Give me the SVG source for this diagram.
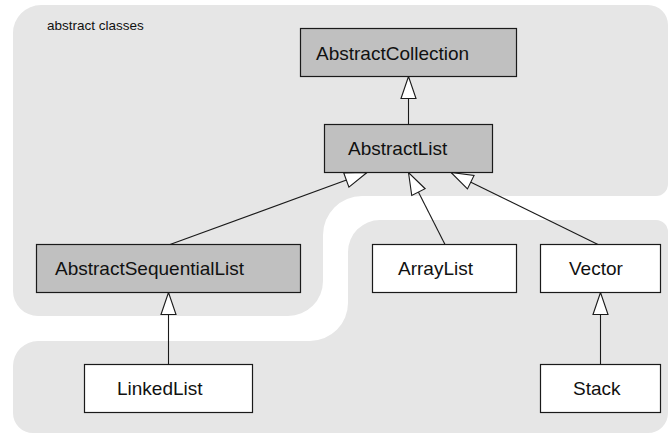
<svg xmlns="http://www.w3.org/2000/svg" width="670" height="435" viewBox="0 0 670 435">
  <style>
    .zone { fill: #e6e6e6; stroke: none; }
    .cls { stroke: #1a1a1a; stroke-width: 1.2; }
    .abstract { fill: #c0c0c0; }
    .concrete { fill: #ffffff; }
    .label { font-family: "Liberation Sans", Arial, sans-serif; font-size: 19px; fill: #111; }
    .note { font-family: "Liberation Sans", Arial, sans-serif; font-size: 13.5px; fill: #111; }
    .edge { stroke: #1a1a1a; stroke-width: 1.1; fill: none; marker-end: url(#inherits); }
  </style>
  <defs>
    <!-- hollow UML generalization triangle, tip on the parent's border -->
    <marker id="inherits" markerUnits="userSpaceOnUse" markerWidth="24" markerHeight="17" viewBox="-1 -1 24 17" refX="22" refY="7.5" orient="auto" overflow="visible">
      <path d="M0,0 L22,7.5 L0,15 Z" fill="#ffffff" stroke="#1a1a1a" stroke-width="1.1" stroke-linejoin="miter"/>
    </marker>
  </defs>

  <!-- background zones -->
  <g id="zone-abstract">
    <path class="zone" d="M41,5 H648 A20,20 0 0 1 668,25 V184 A12,12 0 0 1 656,196 H362 A39,39 0 0 0 323,235 V281 A35,35 0 0 1 288,316 H38 A25,25 0 0 1 13,291 V33 A28,28 0 0 1 41,5 Z"/>
    <text class="note" x="47" y="29.5">abstract classes</text>
  </g>
  <g id="zone-concrete">
    <path class="zone" d="M380,220 H656 A12,12 0 0 1 668,232 V413 A20,20 0 0 1 648,433 H33 A20,20 0 0 1 13,413 V366 A25,25 0 0 1 38,341 H310 A38,38 0 0 0 348,303 V252 A32,32 0 0 1 380,220 Z"/>
  </g>

  <!-- generalization connectors -->
  <g id="connectors">
    <line class="edge" x1="408.5" y1="124.5" x2="408.5" y2="76.5"/>
    <line class="edge" x1="170" y1="244.5" x2="367" y2="172.5"/>
    <line class="edge" x1="445" y1="244.5" x2="408.5" y2="172.5"/>
    <line class="edge" x1="598" y1="244.5" x2="451" y2="172.5"/>
    <line class="edge" x1="168.5" y1="364.5" x2="168.5" y2="292.5"/>
    <line class="edge" x1="600.5" y1="364.5" x2="600.5" y2="292.5"/>
  </g>

  <!-- classes -->
  <g id="AbstractCollection">
    <rect class="cls abstract" x="300.5" y="28.5" width="216" height="48"/>
    <text class="label" x="316" y="59.5">AbstractCollection</text>
  </g>
  <g id="AbstractList">
    <rect class="cls abstract" x="324.5" y="124.5" width="168" height="48"/>
    <text class="label" x="348" y="155">AbstractList</text>
  </g>
  <g id="AbstractSequentialList">
    <rect class="cls abstract" x="36.5" y="244.5" width="264" height="48"/>
    <text class="label" x="55" y="275">AbstractSequentialList</text>
  </g>
  <g id="ArrayList">
    <rect class="cls concrete" x="372.5" y="244.5" width="144" height="48"/>
    <text class="label" x="398" y="275">ArrayList</text>
  </g>
  <g id="Vector">
    <rect class="cls concrete" x="540.5" y="244.5" width="120" height="48"/>
    <text class="label" x="569" y="275">Vector</text>
  </g>
  <g id="LinkedList">
    <rect class="cls concrete" x="84.5" y="364.5" width="168" height="48"/>
    <text class="label" x="117" y="395">LinkedList</text>
  </g>
  <g id="Stack">
    <rect class="cls concrete" x="540.5" y="364.5" width="120" height="48"/>
    <text class="label" x="573" y="395">Stack</text>
  </g>
</svg>
